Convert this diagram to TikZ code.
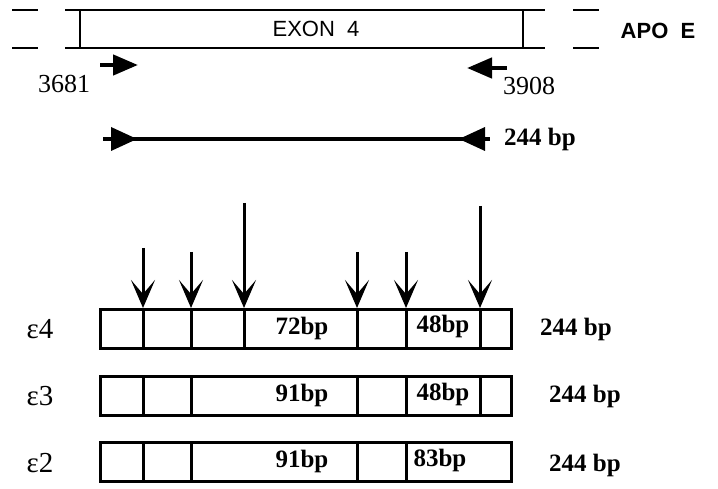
\documentclass[tikz,border=0pt]{standalone}
\usepackage{fontspec}
\setmainfont{Liberation Serif}
\setsansfont{Liberation Sans}
\usetikzlibrary{arrows.meta, positioning}

\begin{document}
\begin{tikzpicture}[
        x=1pt, y=-1pt,
        allele/.style={rectangle, draw, line width=3pt, minimum width=411pt, minimum height=39pt, inner sep=0pt, anchor=north west},
        divider/.style={line width=3pt},
        exonline/.style={line width=2.5pt},
        cut/.style={-{Stealth[length=28pt, width=24pt, inset=14pt]}, line width=3pt},
        primer/.style={-{Triangle[length=25pt, width=20pt]}, line width=4.5pt},
        frag/.style={font=\fontsize{25}{25}\selectfont\bfseries, inner sep=1pt},
        size/.style={font=\fontsize{25}{25}\selectfont\bfseries, inner sep=1pt},
        basepos/.style={font=\fontsize{26}{26}\selectfont, inner sep=1pt},
        allelename/.style={font=\fontsize{29}{29}\selectfont, inner sep=1pt}
    ]
        \useasboundingbox (0,0) rectangle (718,489);

        % Exon 4 of the APO E gene
        \draw[exonline] (12,10) -- (38,10);
        \draw[exonline] (12,48) -- (38,48);
        \draw[exonline] (65,10) -- (545,10);
        \draw[exonline] (65,48) -- (545,48);
        \draw[exonline] (80,10) -- (80,48);
        \draw[exonline] (523,10) -- (523,48);
        \draw[exonline] (573,10) -- (599,10);
        \draw[exonline] (573,48) -- (599,48);
        \node[font=\fontsize{22}{22}\selectfont\sffamily] (exon) at (316,29) {EXON\ \ 4};
        \node[font=\fontsize{22}{22}\selectfont\sffamily\bfseries] (gene) at (658,31) {APO\ \ E};

        % Primers
        \coordinate (fwdtail) at (100,65);
        \coordinate (fwdtip) at (138,65);
        \coordinate (revtail) at (507,68);
        \coordinate (revtip) at (467,68);
        \draw[primer] (fwdtail) -- (fwdtip);
        \draw[primer] (revtail) -- (revtip);
        \node[basepos] (fwdpos) at (64,84) {3681};
        \node[basepos] (revpos) at (529,86) {3908};

        % PCR product
        \coordinate (prodl) at (103,139);
        \coordinate (prodr) at (490,139);
        \draw[line width=3.5pt] (prodl) -- (prodr);
        \fill (111,127) -- (137,139) -- (111,151) -- cycle;
        \fill (485,127) -- (459,139) -- (485,151) -- cycle;
        \node[size, right=13pt of prodr] (prodsize) {244 bp};

        % Alleles after digestion
        \node[allele] (e4) at (99,308) {};
        \node[allele] (e3) at (99,375) {};
        \node[allele] (e2) at (99,441) {};

        \foreach \x in {143,191,244,357,406,480}
            \draw[divider] (\x,308) -- (\x,347);
        \foreach \x in {143,191,357,406,480}
            \draw[divider] (\x,375) -- (\x,414);
        \foreach \x in {143,191,357,406}
            \draw[divider] (\x,441) -- (\x,480);

        % Restriction sites
        \foreach \x/\top [count=\i] in {143/248,191/252,244/203,357/252,406/252,480/206} {
            \coordinate (site\i) at (\x,\top);
            \draw[cut] (site\i) -- (site\i |- e4.north);
        }

        % Fragment sizes
        \node[frag] (f72) at (302,328) {72bp};
        \node[frag] (f48a) at (443,326) {48bp};
        \node[frag] (f91a) at (302,395) {91bp};
        \node[frag] (f48b) at (443,394) {48bp};
        \node[frag] (f91b) at (302,461) {91bp};
        \node[frag] (f83) at (440,460) {83bp};

        % Allele names and product sizes
        \node[allelename] (n4) at (40,329) {ε4};
        \node[allelename] (n3) at (40,396) {ε3};
        \node[allelename] (n2) at (40,463) {ε2};
        \node[size] (s4) at (576,329) {244 bp};
        \node[size] (s3) at (585,396) {244 bp};
        \node[size] (s2) at (585,465) {244 bp};

    \end{tikzpicture}
\end{document}
